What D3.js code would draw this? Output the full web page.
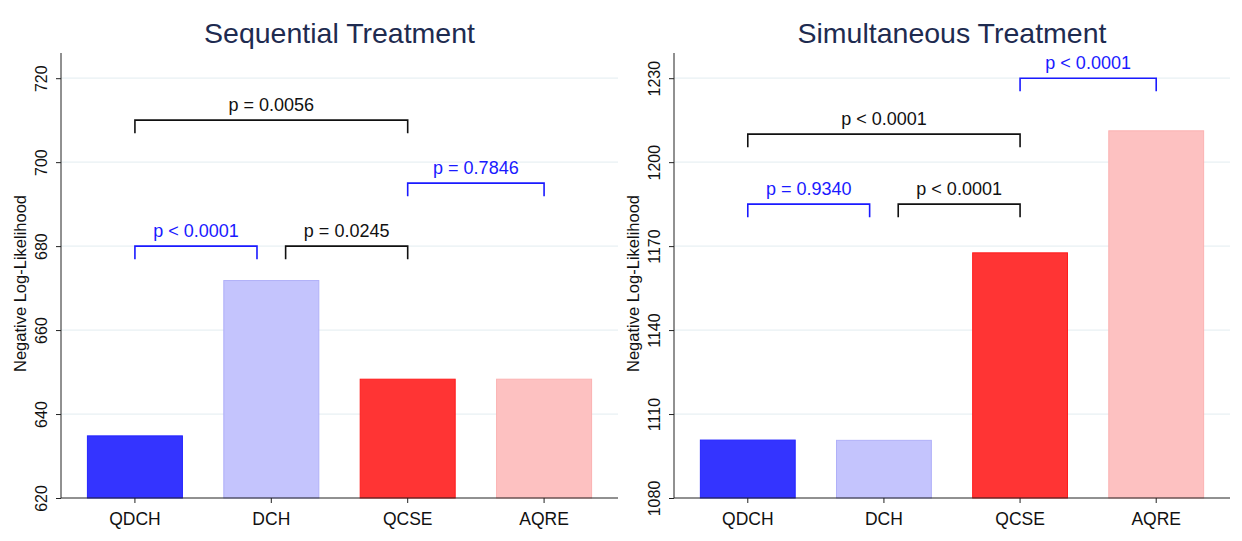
<!DOCTYPE html>
<html>
<head>
<meta charset="utf-8">
<script src="https://cdn.jsdelivr.net/npm/d3@7"></script>
<style>
  body { margin: 0; background: #fff; }
  svg { font-family: "Liberation Sans", Arial, Helvetica, sans-serif; }
</style>
</head>
<body>
<div id="chart"></div>
<script>
// data
var categories = ["QDCH", "DCH", "QCSE", "AQRE"];
var seqValues = [634.8, 671.8, 648.3, 648.3];
var simValues = [1100.7, 1100.6, 1167.6, 1211.2];
var seqTicks = [620, 640, 660, 680, 700, 720];
var simTicks = [1080, 1110, 1140, 1170, 1200, 1230];
// [from, to, bracket level, label, colour]
var seqBrackets = [
  ["QDCH", "QCSE", 710, "p = 0.0056", "black"],
  ["QCSE", "AQRE", 695, "p = 0.7846", "blue"],
  ["QDCH", "DCH", 680, "p < 0.0001", "blue"],
  ["DCH", "QCSE", 680, "p = 0.0245", "black"]
];
var simBrackets = [
  ["QCSE", "AQRE", 1230, "p < 0.0001", "blue"],
  ["QDCH", "QCSE", 1210, "p < 0.0001", "black"],
  ["QDCH", "DCH", 1185, "p = 0.9340", "blue"],
  ["DCH", "QCSE", 1185, "p < 0.0001", "black"]
];

var barFill = ["#3434ff", "#c4c4fd", "#ff3434", "#fdc1c1"];
var barStroke = ["#2424ff", "#b0b0f8", "#ff1c1c", "#fbb2b2"];
var lineCol = { black: "#111", blue: "#1a1aff" };

var svg = d3.select("#chart").append("svg")
    .attr("width", 1242)
    .attr("height", 541);

drawPanel(61, 618, "Sequential Treatment", seqValues, seqTicks, seqBrackets);
drawPanel(674, 1230, "Simultaneous Treatment", simValues, simTicks, simBrackets);

function drawPanel(x0, x1, title, values, ticks, brackets) {
  var top = 53, bottom = 498;
  var tickStep = ticks[1] - ticks[0];

  var x = d3.scaleBand().domain(categories).range([x0, x1])
      .paddingInner(0.296).paddingOuter(0.19);
  var y = d3.scaleLinear()
      .domain([ticks[0], ticks[ticks.length - 1] + tickStep * 0.3])
      .range([bottom, top]);

  var g = svg.append("g");

  // gridlines
  g.selectAll(".grid").data(ticks.slice(1)).enter().append("line")
      .attr("x1", x0).attr("x2", x1)
      .attr("y1", function(d) { return y(d); })
      .attr("y2", function(d) { return y(d); })
      .attr("stroke", "#e8f0f3").attr("stroke-width", 1.2);

  // bars
  g.selectAll(".bar").data(values).enter().append("rect")
      .attr("x", function(d, i) { return x(categories[i]) + 0.5; })
      .attr("width", x.bandwidth() - 1)
      .attr("y", function(d) { return y(d); })
      .attr("height", function(d) { return y(ticks[0]) - y(d); })
      .attr("fill", function(d, i) { return barFill[i]; })
      .attr("stroke", function(d, i) { return barStroke[i]; })
      .attr("stroke-width", 1);

  // y axis
  var yAxis = g.append("g")
      .attr("transform", "translate(" + x0 + ",0)")
      .call(d3.axisLeft(y).tickValues(ticks).tickFormat(d3.format("d")).tickSize(5).tickPadding(9));
  yAxis.select(".domain").attr("d", "M0," + top + "V" + bottom).attr("stroke", "#222");
  yAxis.selectAll(".tick line").attr("stroke", "#222");
  yAxis.selectAll(".tick text")
      .attr("transform", "rotate(-90)")
      .attr("x", 0).attr("y", -14).attr("dy", 0)
      .attr("text-anchor", "middle")
      .attr("font-size", 16).attr("fill", "#111");

  // x axis
  var xAxis = g.append("g")
      .attr("transform", "translate(0," + bottom + ")")
      .call(d3.axisBottom(x).tickSize(5).tickPadding(6));
  xAxis.select(".domain").attr("d", "M" + x0 + ",0H" + x1).attr("stroke", "#222");
  xAxis.selectAll(".tick line").attr("stroke", "#222");
  xAxis.selectAll(".tick text").attr("font-size", 17.5).attr("fill", "#111").attr("dy", "0.9em");

  // y label
  g.append("text")
      .attr("transform", "translate(" + (x0 - 35) + "," + ((top + bottom) / 2 + 8) + ") rotate(-90)")
      .attr("text-anchor", "middle")
      .attr("font-size", 16.5).attr("fill", "#111")
      .text("Negative Log-Likelihood");

  // title
  g.append("text")
      .attr("x", (x0 + x1) / 2).attr("y", 43)
      .attr("text-anchor", "middle")
      .attr("font-size", 28.5).attr("fill", "#1e2b50")
      .text(title);

  // significance brackets
  var nudge = x.step() * 0.105;
  var leg = y(ticks[0]) - y(ticks[0] + tickStep * 0.155);
  brackets.forEach(function(b) {
    var xa = x(b[0]) + x.bandwidth() / 2;
    var xb = x(b[1]) + x.bandwidth() / 2;
    // shrink ends shared with another bracket on the same level
    brackets.forEach(function(o) {
      if (o === b || o[2] !== b[2]) return;
      if (o[0] === b[1]) xb -= nudge;
      if (o[1] === b[0]) xa += nudge;
    });
    var yy = y(b[2]);
    var col = lineCol[b[4]];
    g.append("path")
        .attr("d", "M" + xa + "," + (yy + leg) + "V" + yy + "H" + xb + "V" + (yy + leg))
        .attr("fill", "none").attr("stroke", col).attr("stroke-width", 1.6);
    g.append("text")
        .attr("x", (xa + xb) / 2).attr("y", yy - 9)
        .attr("text-anchor", "middle")
        .attr("font-size", 18).attr("fill", col)
        .text(b[3]);
  });
}
</script>
</body>
</html>
